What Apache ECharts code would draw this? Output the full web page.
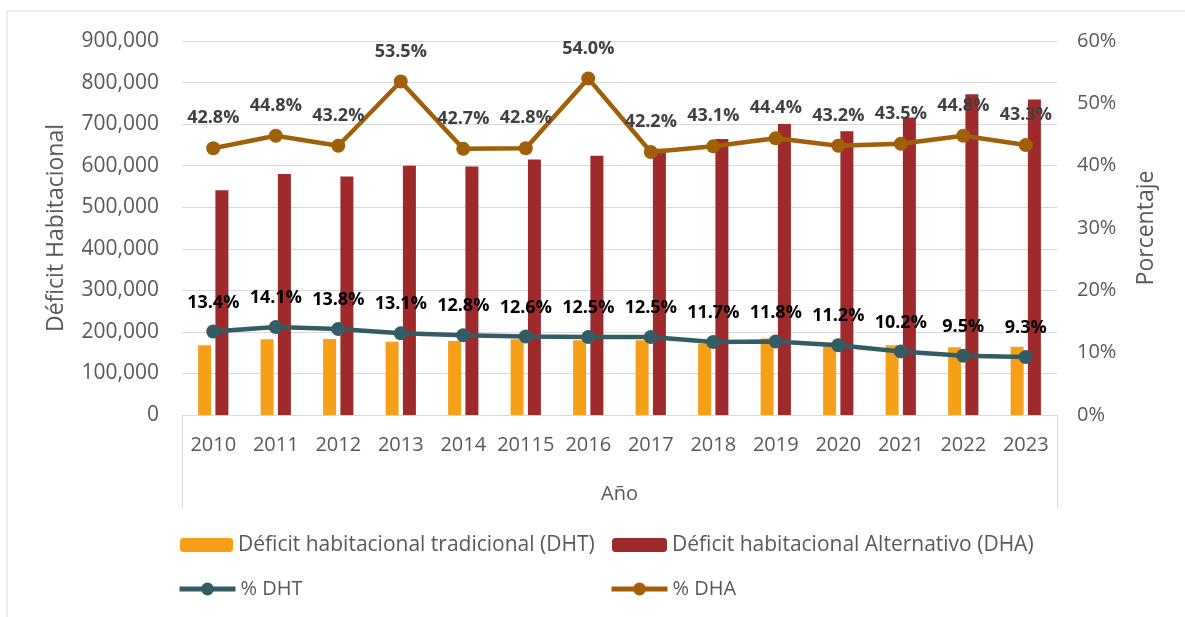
<!DOCTYPE html>
<html>
<head>
<meta charset="utf-8">
<script src="https://cdn.jsdelivr.net/npm/echarts@6/dist/echarts.min.js"></script>
<style>
html,body{margin:0;padding:0;background:#fff;}
#c{width:1185px;height:617px;}
</style>
</head>
<body>
<div id="c"></div>
<script>
const years = ['2010','2011','2012','2013','2014','20115','2016','2017','2018','2019','2020','2021','2022','2023'];
const dht = [168000,182000,183000,176000,178000,182000,180000,180000,172000,184000,174000,168000,163000,164000];
const dha = [541000,580000,574000,600000,598000,615000,624000,641000,664000,700000,683000,716000,772000,759000];
const pctDht = [13.4,14.1,13.8,13.1,12.8,12.6,12.5,12.5,11.7,11.8,11.2,10.2,9.5,9.3];
const pctDha = [42.8,44.8,43.2,53.5,42.7,42.8,54.0,42.2,43.1,44.4,43.2,43.5,44.8,43.3];
const names = ['Déficit habitacional tradicional (DHT)','Déficit habitacional Alternativo (DHA)','% DHT','% DHA'];

const FONT = 'Open Sans';
const GREY = '#595959';
const GRID = '#d9d9d9';
const cOrange = '#F6A01A', cRed = '#9E2A2C', cTeal = '#355C63', cBrown = '#A0600A';

const chart = echarts.init(document.getElementById('c'), null, {renderer:'canvas'});
const legendText = {color:GREY, fontFamily:FONT, fontSize:21, lineHeight:22};
const legendText2 = {color:GREY, fontFamily:FONT, fontSize:20, lineHeight:22};
function lg(name, left, top, w, h, extra){
  return Object.assign({data:[name], left:left, top:top, padding:0, itemWidth:w, itemHeight:h, itemGap:0,
          textStyle:legendText, selectedMode:false}, extra || {});
}
chart.setOption({
  animation:false,
  textStyle:{fontFamily:FONT},
  grid:{left:182, right:128, top:41, bottom:202, containLabel:false},
  graphic:[
    {type:'rect', shape:{x:7,y:11,width:1190,height:640}, style:{fill:'none', stroke:GRID, lineWidth:1}, silent:true},
    {type:'line', shape:{x1:182.5,y1:415,x2:182.5,y2:508}, style:{stroke:GRID, lineWidth:1}, silent:true},
    {type:'line', shape:{x1:1057.5,y1:415,x2:1057.5,y2:508}, style:{stroke:GRID, lineWidth:1}, silent:true}
  ],
  legend:[
    lg(names[0], 180, 534, 53, 14),
    lg(names[1], 612, 534, 55, 14),
    lg(names[2], 177, 578, 56, 16, {lineStyle:{width:5}, textStyle:legendText2}),
    lg(names[3], 609, 578, 56, 16, {lineStyle:{width:5}, textStyle:legendText2})
  ],
  xAxis:{
    type:'category', data:years,
    axisLine:{show:true, lineStyle:{color:GRID}},
    axisTick:{show:false},
    axisLabel:{color:GREY, fontSize:20, margin:20, fontFamily:FONT, interval:0},
    name:'Año', nameLocation:'middle', nameGap:69,
    nameTextStyle:{color:GREY, fontSize:20, fontFamily:FONT}
  },
  yAxis:[
    {type:'value', min:0, max:900000, interval:100000,
     axisLine:{show:false}, axisTick:{show:false},
     splitLine:{lineStyle:{color:GRID, width:1}},
     axisLabel:{color:GREY, fontSize:21, margin:23, fontFamily:FONT,
       formatter:v=>v.toLocaleString('en-US')},
     name:'Déficit Habitacional', nameLocation:'middle', nameGap:114, nameRotate:90,
     nameTextStyle:{color:GREY, fontSize:23, fontFamily:FONT}
    },
    {type:'value', min:0, max:60, interval:10, position:'right',
     axisLine:{show:false}, axisTick:{show:false}, splitLine:{show:false},
     axisLabel:{color:GREY, fontSize:20, margin:20, fontFamily:FONT, formatter:'{value}%'},
     name:'Porcentaje', nameLocation:'middle', nameGap:78, nameRotate:90,
     nameTextStyle:{color:GREY, fontSize:23, fontFamily:FONT}
    }
  ],
  series:[
    {name:names[0], type:'bar', data:dht, barWidth:13, barGap:'33%', itemStyle:{color:cOrange}},
    {name:names[1], type:'bar', data:dha, barWidth:13, barGap:'33%', itemStyle:{color:cRed}},
    {name:names[2], type:'line', yAxisIndex:1, data:pctDht, symbol:'circle', symbolSize:14,
     lineStyle:{color:cTeal, width:4.5}, itemStyle:{color:cTeal},
     label:{show:true, position:'top', distance:13, color:'#000', fontWeight:'bold', fontSize:18, fontFamily:FONT,
       formatter:p=>p.value.toFixed(1)+'%'}},
    {name:names[3], type:'line', yAxisIndex:1, data:pctDha, symbol:'circle', symbolSize:14,
     lineStyle:{color:cBrown, width:4.5}, itemStyle:{color:cBrown},
     label:{show:true, position:'top', distance:14, color:'#404040', fontWeight:'bold', fontSize:18, fontFamily:FONT,
       formatter:p=>p.value.toFixed(1)+'%'}}
  ]
});
</script>
</body>
</html>
